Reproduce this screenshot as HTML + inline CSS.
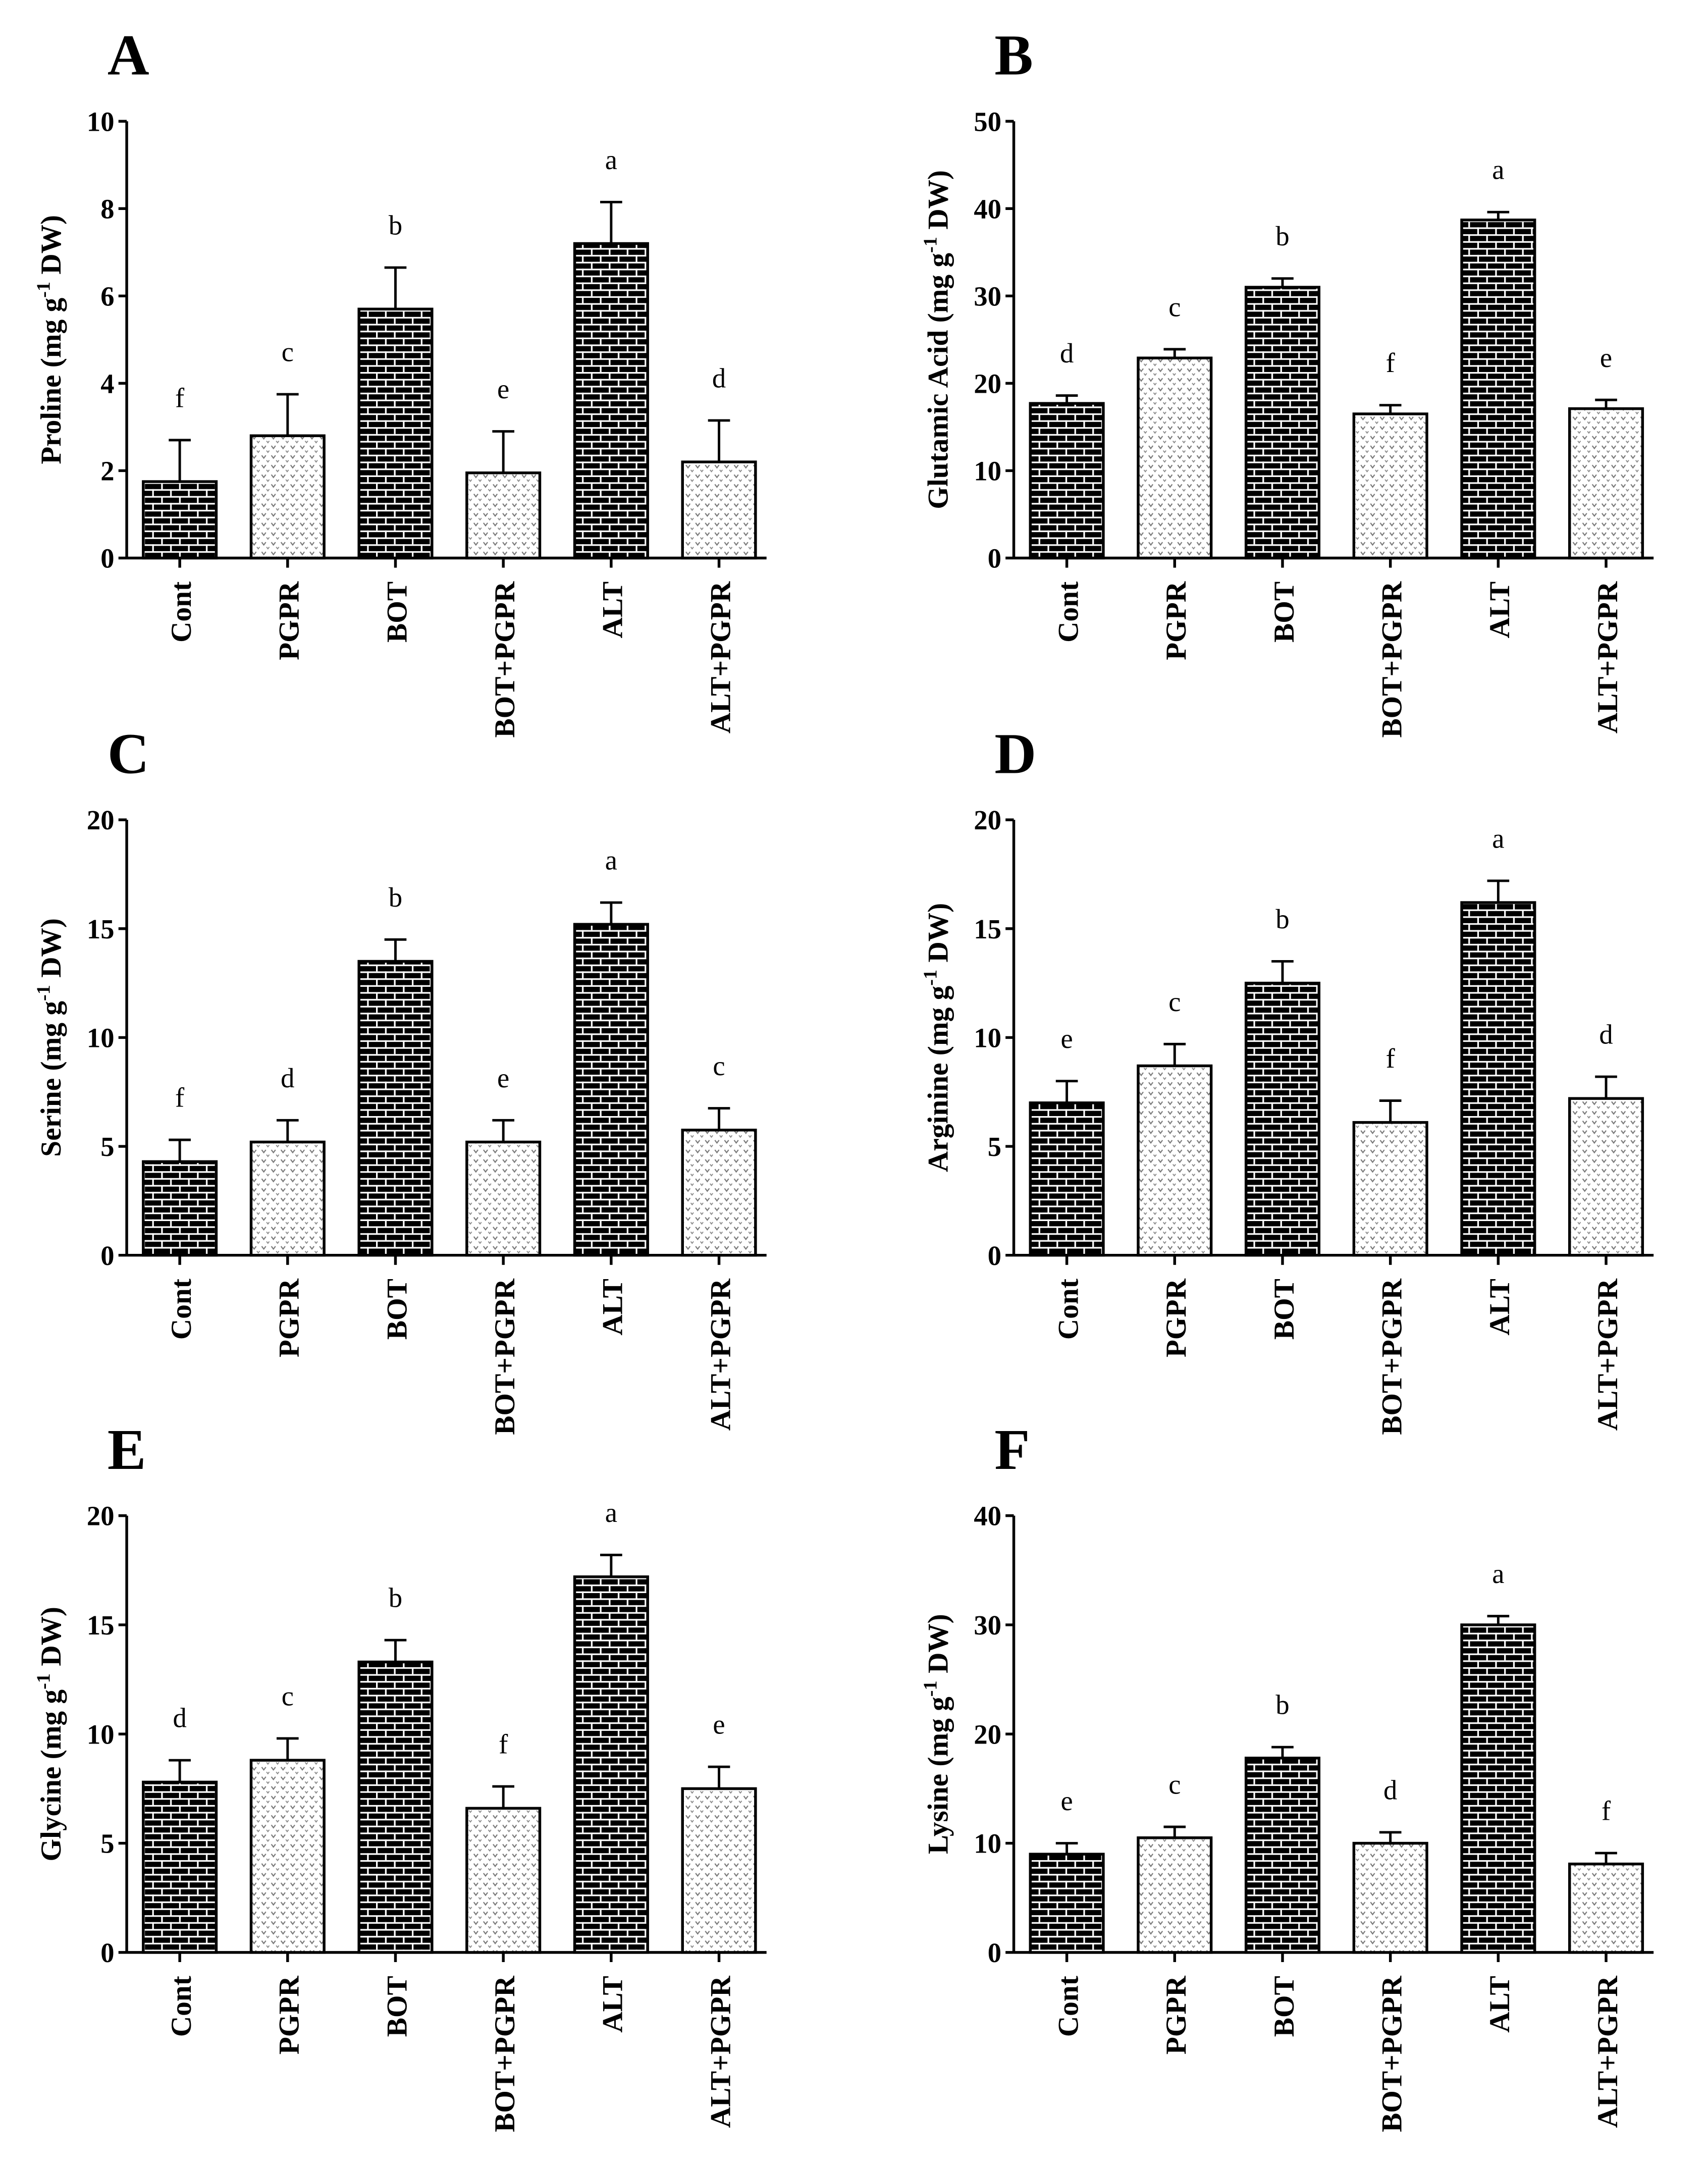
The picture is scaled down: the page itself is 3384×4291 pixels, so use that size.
<!DOCTYPE html>
<html><head><meta charset="utf-8"><style>
html,body{margin:0;padding:0;background:#fff;}
svg{display:block;}
text{font-family:"Liberation Serif",serif;fill:#000;}
</style></head><body>
<svg id="fig" width="3384" height="4291" viewBox="0 0 1240 1572" preserveAspectRatio="none" xmlns="http://www.w3.org/2000/svg">
<defs>
<pattern id="brick" patternUnits="userSpaceOnUse" width="13" height="10">
<rect width="13" height="10" fill="#000"/>
<line x1="0" y1="0.6" x2="13" y2="0.6" stroke="#fff" stroke-width="1.2"/>
<line x1="0" y1="5.6" x2="13" y2="5.6" stroke="#fff" stroke-width="1.2"/>
<line x1="0.6" y1="0" x2="0.6" y2="5" stroke="#fff" stroke-width="1.2"/>
<line x1="7.1" y1="5" x2="7.1" y2="10" stroke="#fff" stroke-width="1.2"/>
</pattern>
<pattern id="dots" patternUnits="userSpaceOnUse" width="7" height="7">
<rect width="7" height="7" fill="#fff"/>
<path d="M1 1.5 L2.5 3.5 L4 1.5" fill="none" stroke="#777" stroke-width="0.8"/>
<path d="M4.5 5 L5.5 6.3 L6.5 5" fill="none" stroke="#888" stroke-width="0.7"/>
</pattern>
</defs>
<g id="panels"></g>
</svg>
<script>
const categories = ["Cont","PGPR","BOT","BOT+PGPR","ALT","ALT+PGPR"];
const dark = [true,false,true,false,true,false];

const prolineValues = [1.75,2.8,5.7,1.95,7.2,2.2];
const prolineErrors = [0.95,0.95,0.95,0.95,0.95,0.95];
const prolineLetters = ["f","c","b","e","a","d"];
const prolineTicks = [0,2,4,6,8,10];

const glutamicValues = [17.7,22.9,31.0,16.5,38.7,17.1];
const glutamicErrors = [0.9,1.0,1.0,1.0,0.9,1.0];
const glutamicLetters = ["d","c","b","f","a","e"];
const glutamicTicks = [0,10,20,30,40,50];

const serineValues = [4.3,5.2,13.5,5.2,15.2,5.75];
const serineErrors = [1.0,1.0,1.0,1.0,1.0,1.0];
const serineLetters = ["f","d","b","e","a","c"];
const serineTicks = [0,5,10,15,20];

const arginineValues = [7.0,8.7,12.5,6.1,16.2,7.2];
const arginineErrors = [1.0,1.0,1.0,1.0,1.0,1.0];
const arginineLetters = ["e","c","b","f","a","d"];
const arginineTicks = [0,5,10,15,20];

const glycineValues = [7.8,8.8,13.3,6.6,17.2,7.5];
const glycineErrors = [1.0,1.0,1.0,1.0,1.0,1.0];
const glycineLetters = ["d","c","b","f","a","e"];
const glycineTicks = [0,5,10,15,20];

const lysineValues = [9.0,10.5,17.8,10.0,30.0,8.1];
const lysineErrors = [1.0,1.0,1.0,1.0,0.8,1.0];
const lysineLetters = ["e","c","b","d","a","f"];
const lysineTicks = [0,10,20,30,40];

const NS = "http://www.w3.org/2000/svg";
function mk(tag, attrs, parent){
  const e = document.createElementNS(NS, tag);
  for (const k in attrs) e.setAttribute(k, attrs[k]);
  parent.appendChild(e);
  return e;
}
const root = document.getElementById('panels');

function panel(letter, name, title, vals, errs, lets, ticks, ax, top, bot){
  const g = mk('g', {}, root);
  
  
  const max = ticks[ticks.length-1];
  const y = v => bot - (v/max)*(bot-top);
  const step = 78.3, bw = 53;
  const xl = i => ax + 12 + i*step;
  const pl = mk('text', {x: ax-14, y: top-34, 'font-size': 42, 'font-weight': 'bold'}, g);
  pl.textContent = letter;
  
  
  const yaxis = mk('line', {x1: ax, y1: top, x2: ax, y2: bot, stroke: '#000', 'stroke-width': 2}, g);
  
  
  ticks.forEach(t => {
    mk('line', {x1: ax-6, y1: y(t), x2: ax, y2: y(t), stroke: '#000', 'stroke-width': 2}, g);
    const tl = mk('text', {x: ax-9, y: y(t)+7, 'font-size': 20, 'font-weight': 'bold', 'text-anchor': 'end'}, g);
    tl.textContent = t;
    
    
  });
  const xaxis = mk('line', {x1: ax, y1: bot, x2: ax + 12 + 5*step + bw + 8, y2: bot, stroke: '#000', 'stroke-width': 2}, g);
  
  
  const cy = (top+bot)/2;
  const yt = mk('text', {x: 0, y: 0, 'font-size': 21, 'font-weight': 'bold', 'text-anchor': 'middle', transform: `translate(${ax-48},${cy}) rotate(-90)`}, g);
  
  
  const t1 = mk('tspan', {}, yt); t1.textContent = title + ' (mg g';
  const t2 = mk('tspan', {dy: -8, 'font-size': 14}, yt); t2.textContent = '-1';
  const t3 = mk('tspan', {dy: 8}, yt); t3.textContent = ' DW)';
  vals.forEach((v, i) => {
    const x0 = xl(i), cx = x0 + bw/2;
    const et = y(v + errs[i]);
    const eb = mk('line', {x1: cx, y1: y(v), x2: cx, y2: et, stroke: '#000', 'stroke-width': 1.8}, g);
    
    
    mk('line', {x1: cx-8, y1: et, x2: cx+8, y2: et, stroke: '#000', 'stroke-width': 1.8}, g);
    const r = mk('rect', {x: x0, y: y(v), width: bw, height: bot - y(v), fill: dark[i] ? 'url(#brick)' : 'url(#dots)', stroke: '#000', 'stroke-width': 2}, g);
    
    
    const lt = mk('text', {x: cx, y: et - 24, 'font-size': 20, 'text-anchor': 'middle'}, g);
    lt.textContent = lets[i];
    
    
    mk('line', {x1: cx, y1: bot, x2: cx, y2: bot+7, stroke: '#000', 'stroke-width': 2}, g);
    const cl = mk('text', {x: 0, y: 0, 'font-size': 21, 'font-weight': 'bold', 'text-anchor': 'end', transform: `translate(${cx+8},${bot+17}) rotate(-90)`}, g);
    cl.textContent = categories[i];
    
    
  });
}
panel('A','proline','Proline', prolineValues, prolineErrors, prolineLetters, prolineTicks, 92, 88, 405);
panel('B','glutamic','Glutamic Acid', glutamicValues, glutamicErrors, glutamicLetters, glutamicTicks, 736, 88, 405);
panel('C','serine','Serine', serineValues, serineErrors, serineLetters, serineTicks, 92, 595, 911);
panel('D','arginine','Arginine', arginineValues, arginineErrors, arginineLetters, arginineTicks, 736, 595, 911);
panel('E','glycine','Glycine', glycineValues, glycineErrors, glycineLetters, glycineTicks, 92, 1100, 1417);
panel('F','lysine','Lysine', lysineValues, lysineErrors, lysineLetters, lysineTicks, 736, 1100, 1417);
</script>
</body></html>
